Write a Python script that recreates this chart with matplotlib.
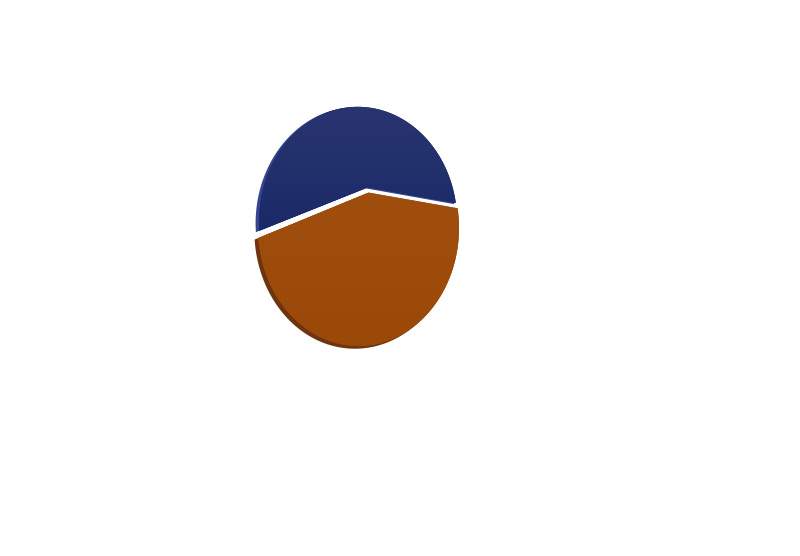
import matplotlib
matplotlib.use("Agg")
import matplotlib.pyplot as plt
import matplotlib.transforms as mtransforms
from matplotlib.path import Path
import numpy as np

labels = ["Series A", "Series B"]
values = [58, 42]
colors = ["#13235f", "#a04a0b"]
rim_colors = ["#34468f", "#6e3410"]


class Tilt(mtransforms.Transform):
    """Projective tilt that keeps the unit circle but moves its centre (3D look)."""
    input_dims = output_dims = 2
    is_separable = False
    has_inverse = False

    def __init__(self, p):
        super().__init__()
        self.p = np.asarray(p, float)

    def transform_non_affine(self, pts):
        pts = np.asarray(pts, float)
        p = self.p
        p2 = p @ p
        g = 1.0 / np.sqrt(1 - p2)
        d = pts @ p
        w = g * (1 + d)
        v = pts + (((g - 1) / p2) * d)[:, None] * p + g * p
        return v / w[:, None]

    def transform_path_non_affine(self, path):
        t = np.linspace(0, 1, 40)
        verts, codes = [], []
        for seg, code in path.iter_bezier():
            if code == Path.MOVETO:
                verts.append(seg.control_points[-1:])
                codes.append([Path.MOVETO])
                continue
            pts = seg(t)[1:]
            verts.append(pts)
            codes.append([Path.LINETO] * len(pts))
        verts = np.concatenate(verts)
        codes = np.concatenate(codes)
        return Path(self.transform_non_affine(verts), codes)


W, H = 800, 556
fig = plt.figure(figsize=(W / 100, H / 100), dpi=100)
fig.patch.set_facecolor("white")

x0, x1 = 258, 459
y0, y1 = 110, 346
m = 1.2
cx, cy = (x0 + x1) / 2, (y0 + y1) / 2
rx, ry = (x1 - x0) / 2, (y1 - y0) / 2
ax = fig.add_axes([(cx - rx * m) / W, 1 - (cy + ry * m) / H, 2 * rx * m / W, 2 * ry * m / H])
ax.set_xlim(-m, m)
ax.set_ylim(-m, m)
ax.set_aspect("auto")
ax.axis("off")

tilt = Tilt((0.1, 0.3))
explode = [0.05, 0.0]
start = -8

rim, _ = ax.pie(values, colors=rim_colors, startangle=start, explode=explode,
                center=(-0.025, -0.01), radius=1.0, wedgeprops=dict(linewidth=0))
for w in rim:
    w.set_transform(tilt + ax.transData)

wedges, _ = ax.pie(values, colors=colors, startangle=start, explode=explode,
                   center=(0.0, 0.0), radius=1.0, wedgeprops=dict(linewidth=0))
for w in wedges:
    w.set_transform(tilt + ax.transData)

grad_specs = [("#2b3772", "#0b1d5c"), ("#a45212", "#9a4808")]
yy = np.linspace(1, 0, 256).reshape(-1, 1)
for w, (ctop, cbot) in zip(wedges, grad_specs):
    c1 = np.array(matplotlib.colors.to_rgb(ctop))
    c2 = np.array(matplotlib.colors.to_rgb(cbot))
    img = c2 + (c1 - c2) * yy[..., None]
    img = np.repeat(img, 4, axis=1)
    im = ax.imshow(img, extent=[-m, m, -m, m], aspect="auto", zorder=3)
    im.set_clip_path(w)

ax.set_xlim(-m, m)
ax.set_ylim(-m, m)
fig.savefig("out.png", dpi=100, facecolor="white")
